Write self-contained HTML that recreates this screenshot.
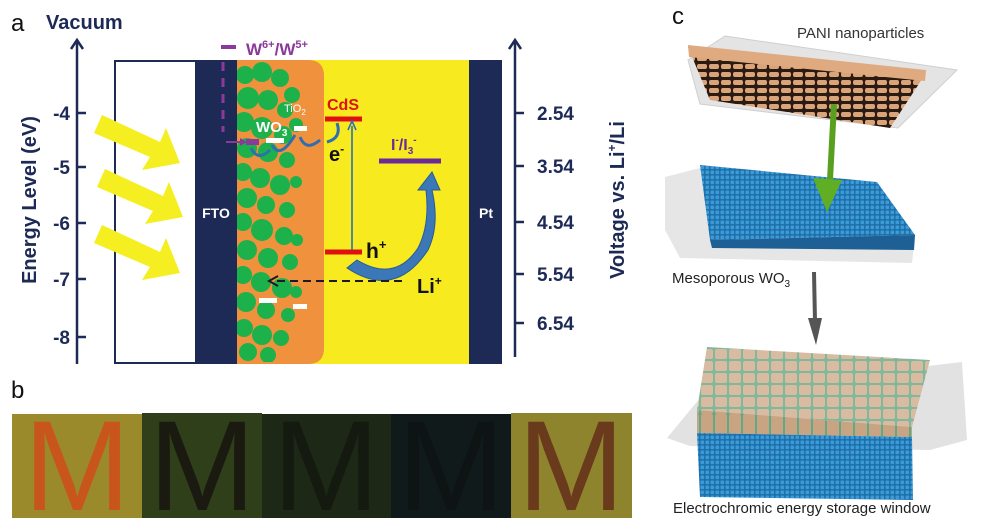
<!DOCTYPE html>
<html><head><meta charset="utf-8"><style>
html,body{margin:0;padding:0;background:#fff;}
svg{display:block;}
text{font-family:"Liberation Sans",Arial,sans-serif;}
</style></head><body>
<svg width="1000" height="532" viewBox="0 0 1000 532" xmlns="http://www.w3.org/2000/svg">
<defs>
<clipPath id="grc"><rect x="237" y="62" width="80" height="300"/></clipPath>
<pattern id="pani" width="12" height="8" patternUnits="userSpaceOnUse"><rect width="12" height="8" fill="#2a1a10"/><rect x="1" y="0" width="10" height="5" rx="2" fill="#d9a47a"/></pattern>
<pattern id="blue" width="5" height="5" patternUnits="userSpaceOnUse"><rect width="5" height="5" fill="#1f6fa8"/><rect x="0.5" y="0.5" width="3.6" height="3.6" rx="1" fill="#3a9bd8"/></pattern>
<pattern id="tan" width="14" height="12" patternUnits="userSpaceOnUse"><rect width="14" height="12" fill="#7fb89a"/><rect x="1" y="1" width="12" height="10" rx="2" fill="#d8bba0"/></pattern>
<pattern id="tanf" width="14" height="23" patternUnits="userSpaceOnUse"><rect width="14" height="23" fill="#5fa888"/><rect x="1" y="0" width="12" height="23" rx="2" fill="#c8a483"/></pattern>
</defs>

<!-- panel a -->
<text x="11" y="31" font-size="24" fill="#111">a</text>
<text x="46" y="29" font-size="20" font-weight="bold" fill="#1c2a55">Vacuum</text>

<line x1="77" y1="42" x2="77" y2="364" stroke="#1c2a55" stroke-width="2.5"/>
<path d="M71,49 L77,40 L83,49" fill="none" stroke="#1c2a55" stroke-width="2.5"/>
<g stroke="#1c2a55" stroke-width="2.5">
<line x1="77" y1="113" x2="86" y2="113"/><line x1="77" y1="167" x2="86" y2="167"/><line x1="77" y1="223" x2="86" y2="223"/><line x1="77" y1="279" x2="86" y2="279"/><line x1="77" y1="337" x2="86" y2="337"/>
</g>
<g font-size="19" font-weight="bold" fill="#1c2a55" text-anchor="end">
<text x="70" y="120">-4</text><text x="70" y="174">-5</text><text x="70" y="230">-6</text><text x="70" y="286">-7</text><text x="70" y="344">-8</text>
</g>
<text transform="translate(36,200) rotate(-90)" text-anchor="middle" font-size="20" font-weight="bold" fill="#1c2a55">Energy Level (eV)</text>

<rect x="115" y="61" width="81" height="302" fill="#fff" stroke="#1c2a55" stroke-width="2"/>
<rect x="196" y="60" width="41" height="304" fill="#1c2a55"/>
<rect x="300" y="60" width="169" height="304" fill="#f7ea1f"/>
<path d="M237,60 H308 Q324,60 324,76 V348 Q324,364 308,364 H237 Z" fill="#f0913e"/>
<g fill="#1db14b" clip-path="url(#grc)">
<circle cx="245" cy="75" r="9"/><circle cx="262" cy="72" r="10"/><circle cx="280" cy="78" r="9"/><circle cx="292" cy="95" r="8"/>
<circle cx="248" cy="98" r="11"/><circle cx="268" cy="100" r="10"/><circle cx="285" cy="110" r="8"/><circle cx="244" cy="122" r="10"/>
<circle cx="262" cy="128" r="11"/><circle cx="283" cy="135" r="9"/><circle cx="296" cy="125" r="7"/><circle cx="247" cy="148" r="10"/>
<circle cx="268" cy="152" r="10"/><circle cx="287" cy="160" r="8"/><circle cx="243" cy="172" r="9"/><circle cx="260" cy="178" r="10"/>
<circle cx="280" cy="185" r="10"/><circle cx="247" cy="198" r="10"/><circle cx="266" cy="205" r="9"/><circle cx="287" cy="210" r="8"/>
<circle cx="243" cy="222" r="9"/><circle cx="262" cy="230" r="11"/><circle cx="284" cy="236" r="9"/><circle cx="247" cy="250" r="10"/>
<circle cx="268" cy="258" r="10"/><circle cx="290" cy="262" r="8"/><circle cx="243" cy="275" r="9"/><circle cx="261" cy="282" r="10"/>
<circle cx="282" cy="288" r="10"/><circle cx="246" cy="302" r="10"/><circle cx="266" cy="310" r="9"/><circle cx="288" cy="315" r="7"/>
<circle cx="244" cy="328" r="9"/><circle cx="262" cy="335" r="10"/><circle cx="281" cy="338" r="8"/><circle cx="248" cy="352" r="9"/>
<circle cx="268" cy="355" r="8"/><circle cx="296" cy="182" r="6"/><circle cx="297" cy="240" r="6"/><circle cx="296" cy="292" r="6"/>
</g>
<text x="216" y="218" font-size="14" font-weight="bold" fill="#fff" text-anchor="middle">FTO</text>
<rect x="469" y="60" width="33" height="304" fill="#1c2a55"/>
<text x="486" y="218" font-size="14" font-weight="bold" fill="#fff" text-anchor="middle">Pt</text>

<g fill="#f5ee20">
<polygon points="94,133 102,115 160,142 166,128 180,163 142,170 150,157"/>
<polygon points="97,187 105,169 163,196 169,182 183,217 145,224 153,211"/>
<polygon points="94,243 102,225 160,252 166,238 180,273 142,280 150,267"/>
</g>

<line x1="221" y1="47" x2="236" y2="47" stroke="#8a3a9a" stroke-width="4"/>
<text x="246" y="55" font-size="17" font-weight="bold" fill="#8a3a9a">W<tspan font-size="11" dy="-7">6+</tspan><tspan dy="7">/W</tspan><tspan font-size="11" dy="-7">5+</tspan></text>
<line x1="223" y1="62" x2="223" y2="132" stroke="#8a3a9a" stroke-width="3" stroke-dasharray="9,7"/>
<line x1="226" y1="142" x2="242" y2="142" stroke="#8a3a9a" stroke-width="2"/>
<path d="M240,138 L247,142 L240,146Z" fill="#8a3a9a"/>
<rect x="246" y="139" width="13" height="6" fill="#8a3a9a"/>

<text x="284" y="112" font-size="11" fill="#fff">TiO<tspan font-size="8" dy="3">2</tspan></text>
<text x="256" y="132" font-size="15" font-weight="bold" fill="#fff">WO<tspan font-size="10" dy="4">3</tspan></text>
<g fill="#fff"><rect x="294" y="126" width="13" height="5"/><rect x="266" y="138" width="18" height="5"/><rect x="259" y="298" width="18" height="5"/><rect x="293" y="304" width="14" height="5"/></g>
<g fill="none" stroke="#2f6fb0" stroke-width="3">
<path d="M300,137 Q306,152 320,140"/><path d="M272,145 Q280,160 295,135"/><path d="M251,148 Q258,162 270,150"/><path d="M337,123 Q342,138 327,142"/>
</g>

<text x="327" y="110" font-size="16" font-weight="bold" fill="#e01010">CdS</text>
<line x1="325" y1="119" x2="362" y2="119" stroke="#e01010" stroke-width="5"/>
<line x1="325" y1="252" x2="362" y2="252" stroke="#e01010" stroke-width="5"/>
<line x1="352" y1="250" x2="352" y2="126" stroke="#2a6fb5" stroke-width="1.6"/>
<path d="M348,130 L352,121 L356,130" fill="none" stroke="#2a6fb5" stroke-width="1.6"/>
<text x="329" y="161" font-size="20" font-weight="bold" fill="#111">e<tspan font-size="12" dy="-8">-</tspan></text>
<text x="366" y="258" font-size="21" font-weight="bold" fill="#111">h<tspan font-size="13" dy="-9">+</tspan></text>

<text x="391" y="150" font-size="16" font-weight="bold" fill="#6a2a9a">I<tspan font-size="10" dy="-7">-</tspan><tspan dy="7">/I</tspan><tspan font-size="10" dy="4">3</tspan><tspan font-size="10" dy="-11">-</tspan></text>
<line x1="379" y1="161" x2="441" y2="161" stroke="#6a2a9a" stroke-width="5"/>

<path d="M347,268 Q395,300 428,250 Q440,225 432,190 L440,190 L432,172 L418,190 L426,190 Q430,225 418,248 Q395,283 357,260 Z" fill="#3c78b8" stroke="#2a5a95" stroke-width="1"/>

<line x1="402" y1="281" x2="272" y2="281" stroke="#1a1a2a" stroke-width="2" stroke-dasharray="8,5"/>
<path d="M278,276 L269,281 L278,286" fill="none" stroke="#1a1a2a" stroke-width="2"/>
<text x="417" y="293" font-size="20" font-weight="bold" fill="#111">Li<tspan font-size="12" dy="-8">+</tspan></text>

<line x1="515" y1="42" x2="515" y2="357" stroke="#1c2a55" stroke-width="2.5"/>
<path d="M509,49 L515,40 L521,49" fill="none" stroke="#1c2a55" stroke-width="2.5"/>
<g stroke="#1c2a55" stroke-width="2.5">
<line x1="515" y1="113" x2="524" y2="113"/><line x1="515" y1="166" x2="524" y2="166"/><line x1="515" y1="222" x2="524" y2="222"/><line x1="515" y1="274" x2="524" y2="274"/><line x1="515" y1="323" x2="524" y2="323"/>
</g>
<g font-size="19" font-weight="bold" fill="#1c2a55">
<text x="537" y="120">2.54</text><text x="537" y="173">3.54</text><text x="537" y="229">4.54</text><text x="537" y="281">5.54</text><text x="537" y="330">6.54</text>
</g>
<text transform="translate(624,200) rotate(-90)" text-anchor="middle" font-size="20" font-weight="bold" fill="#1c2a55">Voltage vs. Li<tspan font-size="12" dy="-8">+</tspan><tspan dy="8">/Li</tspan></text>

<!-- panel b -->
<text x="11" y="398" font-size="24" fill="#111">b</text>
<rect x="12" y="414" width="130" height="104" fill="#9a8a2c"/>
<text x="77" y="510" font-size="128" text-anchor="middle" fill="#c8561c" font-family="Liberation Serif,serif">M</text>
<rect x="142" y="413" width="120" height="105" fill="#2f3f1a"/>
<text x="202" y="510" font-size="128" text-anchor="middle" fill="#1a1a10" font-family="Liberation Serif,serif">M</text>
<rect x="262" y="414" width="129" height="104" fill="#1e2816"/>
<text x="326" y="510" font-size="128" text-anchor="middle" fill="#141a10" font-family="Liberation Serif,serif">M</text>
<rect x="391" y="414" width="120" height="104" fill="#111a1a"/>
<text x="451" y="510" font-size="128" text-anchor="middle" fill="#0e1414" font-family="Liberation Serif,serif">M</text>
<rect x="511" y="413" width="121" height="105" fill="#8e842e"/>
<text x="571" y="510" font-size="128" text-anchor="middle" fill="#6a3a1c" font-family="Liberation Serif,serif">M</text>

<!-- panel c -->
<text x="672" y="24" font-size="24" fill="#111">c</text>
<text x="797" y="38" font-size="15" fill="#333">PANI nanoparticles</text>
<!-- top -->
<polygon points="725,36 957,70 898,128 700,104 688,60" fill="#e4e4e4" stroke="#cfcfcf"/>
<polygon points="688,47 926,73 890,128 710,100" fill="url(#pani)"/>
<polygon points="688,45 926,70 925,81 689,57" fill="#e0aa80"/>
<!-- middle -->
<polygon points="665,177 700,168 915,236 912,263 680,258 665,230" fill="#e6e6e6"/>
<polygon points="700,165 877,182 915,235 710,240" fill="url(#blue)"/>
<polygon points="710,240 915,235 914,250 712,248" fill="#1e5f95"/>
<!-- green arrow on top -->
<line x1="834" y1="104" x2="830" y2="180" stroke="#5aa020" stroke-width="6"/>
<polygon points="813,178 842,180 827,212" fill="#5fae24"/>
<text x="672" y="283" font-size="15" fill="#222">Mesoporous WO<tspan font-size="10" dy="4">3</tspan></text>
<line x1="814" y1="272" x2="815" y2="322" stroke="#555" stroke-width="4"/>
<polygon points="808,318 822,318 816,345" fill="#555"/>
<!-- bottom -->
<polygon points="667,438 705,392 962,362 967,440 930,450 690,446" fill="#e2e2e2"/>
<polygon points="707,347 930,360 912,427 697,410" fill="url(#tan)"/>
<polygon points="697,410 912,427 912,437 697,433" fill="url(#tanf)"/>
<polygon points="697,433 912,437 913,500 700,497" fill="url(#blue)"/>
<text x="673" y="513" font-size="15" fill="#222">Electrochromic energy storage window</text>
</svg>
</body></html>
